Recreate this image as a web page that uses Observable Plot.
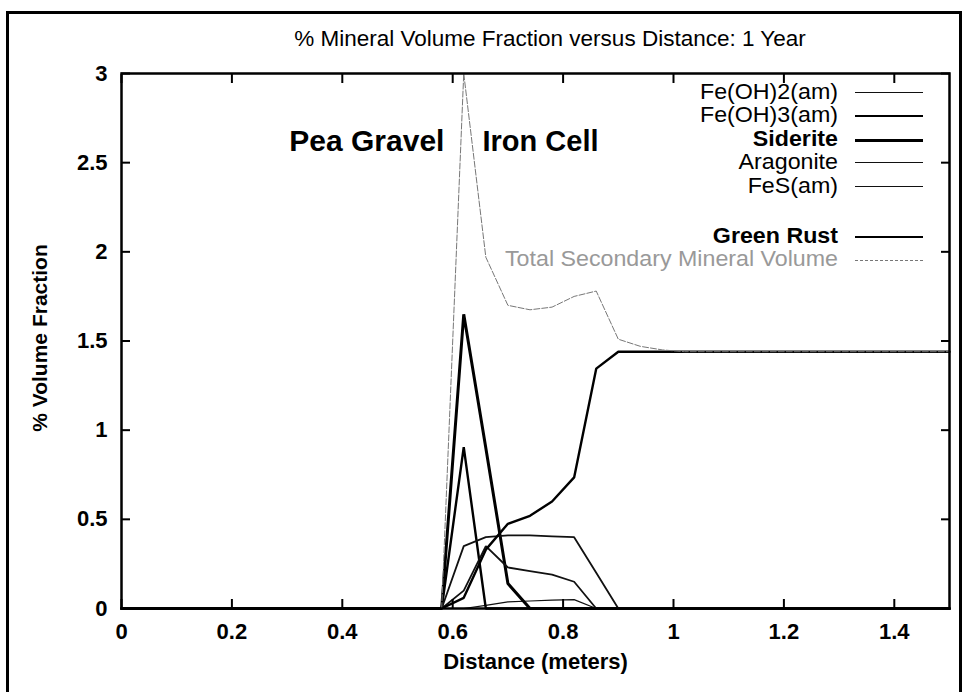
<!DOCTYPE html>
<html><head><meta charset="utf-8">
<script src="https://cdn.jsdelivr.net/npm/d3@7"></script>
<script src="https://cdn.jsdelivr.net/npm/@observablehq/plot@0.6"></script>
<style>
body{margin:0;background:#fff;width:964px;height:692px;overflow:hidden;position:relative;font-family:"Liberation Sans",Arial,sans-serif}
#border{position:absolute;left:6px;top:11px;width:956px;height:700px;border:3px solid #000;box-sizing:border-box;pointer-events:none;z-index:5}
#title{position:absolute;left:0;top:0;width:964px;height:60px;}
#title span{position:absolute;left:550px;top:39px;transform:translate(-50%,-50%);font-size:22.5px;white-space:nowrap;color:#000}
#ylab{position:absolute;left:40px;top:338px;transform:translate(-50%,-50%) rotate(-90deg);font-size:21px;font-weight:bold;white-space:nowrap}
#chart{position:absolute;left:0;top:60px}
#legend{position:absolute;left:0;top:0}
.lg{position:absolute;white-space:nowrap;font-size:21.5px;transform-origin:100% 50%;transform:translateY(-50%) scaleX(1.08);text-align:right;width:700px;line-height:1}
.ln{position:absolute;height:0}
</style></head>
<body>
<div id="title"><span>% Mineral Volume Fraction versus Distance: 1 Year</span></div>
<div id="chart"></div>
<div id="ylab">% Volume Fraction</div>
<div id="legend"></div>
<div id="border"></div>
<script>
// ---- data ----
const seriesNames = ["Fe(OH)2(am)", "Fe(OH)3(am)", "Siderite", "Aragonite", "FeS(am)", "Green Rust", "Total Secondary Mineral Volume"];

const feoh2X = [0, 0.62, 0.66, 0.70, 0.74, 0.78, 0.82, 0.86, 1.5];
const feoh2Y = [0, 0, 0.018, 0.037, 0.042, 0.047, 0.05, 0, 0];

const feoh3X = [0, 0.58, 0.62, 0.66, 1.5];
const feoh3Y = [0, 0, 0.905, 0, 0];

const sideriteX = [0, 0.58, 0.62, 0.66, 0.70, 0.74, 1.5];
const sideriteY = [0, 0, 1.65, 0.90, 0.14, 0, 0];

const aragoniteX = [0, 0.58, 0.62, 0.66, 0.70, 0.74, 0.78, 0.82, 0.86, 0.90, 1.5];
const aragoniteY = [0, 0, 0.35, 0.40, 0.41, 0.41, 0.405, 0.40, 0.20, 0, 0];

const fesX = [0, 0.58, 0.62, 0.66, 0.70, 0.74, 0.78, 0.82, 0.86, 1.5];
const fesY = [0, 0, 0.10, 0.35, 0.23, 0.21, 0.19, 0.15, 0, 0];

const greenRustX = [0, 0.58, 0.62, 0.66, 0.70, 0.74, 0.78, 0.82, 0.86, 0.90, 1.5];
const greenRustY = [0, 0, 0.06, 0.33, 0.475, 0.52, 0.60, 0.735, 1.345, 1.44, 1.44];

const totalX = [0, 0.58, 0.62, 0.66, 0.70, 0.74, 0.78, 0.82, 0.86, 0.90, 0.94, 0.98, 1.02, 1.5];
const totalY = [0, 0, 3.0, 1.97, 1.70, 1.675, 1.69, 1.75, 1.78, 1.51, 1.47, 1.45, 1.44, 1.44];

const xTicks = [0, 0.2, 0.4, 0.6, 0.8, 1, 1.2, 1.4];
const yTicks = [0, 0.5, 1, 1.5, 2, 2.5, 3];
const leftRegion = {x: 0.585, y: 2.62, text: "Pea Gravel"};
const rightRegion = {x: 0.654, y: 2.62, text: "Iron Cell"};

// ---- build ----
const xs = [feoh2X, feoh3X, sideriteX, aragoniteX, fesX, greenRustX, totalX];
const ys = [feoh2Y, feoh3Y, sideriteY, aragoniteY, fesY, greenRustY, totalY];
const styles = [
  {stroke: "#111", width: 1.2, dash: null},
  {stroke: "#000", width: 2.4, dash: null},
  {stroke: "#000", width: 3, dash: null},
  {stroke: "#111", width: 1.8, dash: null},
  {stroke: "#111", width: 1.8, dash: null},
  {stroke: "#000", width: 2.4, dash: null},
  {stroke: "#777", width: 1, dash: "6,2"}
];
const rows = [];
seriesNames.forEach((name, i) => xs[i].forEach((x, j) => rows.push({name, x, y: ys[i][j]})));

const marks = seriesNames.map((name, i) => Plot.line(rows.filter(d => d.name === name), {
  x: "x", y: "y", stroke: styles[i].stroke, strokeWidth: styles[i].width,
  strokeDasharray: styles[i].dash, strokeLinejoin: "miter"
}));

const font = "Liberation Sans, Arial, sans-serif";
const plot = Plot.plot({
  width: 964, height: 632,
  marginLeft: 121, marginRight: 15, marginTop: 13, marginBottom: 84,
  style: {fontFamily: font, background: "transparent", color: "#000"},
  x: {domain: [0, 1.5]},
  y: {domain: [0, 3]},
  marks: [
    ...marks,
    Plot.frame({stroke: "#000", strokeWidth: 2.5}),
    Plot.axisX(xTicks, {anchor: "bottom", tickSize: -9, text: null, strokeWidth: 2, label: null}),
    Plot.axisX(xTicks, {anchor: "top", tickSize: -9, text: null, strokeWidth: 2, label: null}),
    Plot.axisY(yTicks, {anchor: "left", tickSize: -9, text: null, strokeWidth: 2, label: null}),
    Plot.axisY(yTicks, {anchor: "right", tickSize: -9, text: null, strokeWidth: 2, label: null}),
    Plot.axisX(xTicks, {anchor: "bottom", tickSize: 0, tickPadding: 15, fontSize: 22, fontWeight: "bold", label: null, tickFormat: d => String(d)}),
    Plot.axisY(yTicks, {anchor: "left", tickSize: 0, tickPadding: 14, fontSize: 22, fontWeight: "bold", label: null, tickFormat: d => String(d)}),
    Plot.text(["Distance (meters)"], {frameAnchor: "bottom", dy: 60, fontSize: 22, fontWeight: "bold"}),
    Plot.text([leftRegion], {x: "x", y: "y", text: "text", textAnchor: "end", fontSize: 30, fontWeight: "bold"}),
    Plot.text([rightRegion], {x: "x", y: "y", text: "text", textAnchor: "start", fontSize: 29, fontWeight: "bold"})
  ]
});
document.getElementById("chart").appendChild(plot);

// ---- legend ----
const legendY = [93, 116, 140, 163, 187, 237, 260];
const legend = document.getElementById("legend");
seriesNames.forEach((name, i) => {
  const t = document.createElement("div");
  t.className = "lg";
  t.textContent = name;
  t.style.left = (838 - 700) + "px";
  t.style.top = legendY[i] + "px";
  t.style.fontWeight = (name === "Siderite" || name === "Green Rust") ? "bold" : "normal";
  t.style.color = i === 6 ? "#999" : "#000";
  legend.appendChild(t);
  const l = document.createElement("div");
  l.className = "ln";
  l.style.left = "855px";
  l.style.width = "68px";
  l.style.top = (legendY[i] - styles[i].width / 2) + "px";
  l.style.borderTop = styles[i].width + "px " + (styles[i].dash ? "dashed " : "solid ") + styles[i].stroke;
  legend.appendChild(l);
});
</script>
</body></html>
